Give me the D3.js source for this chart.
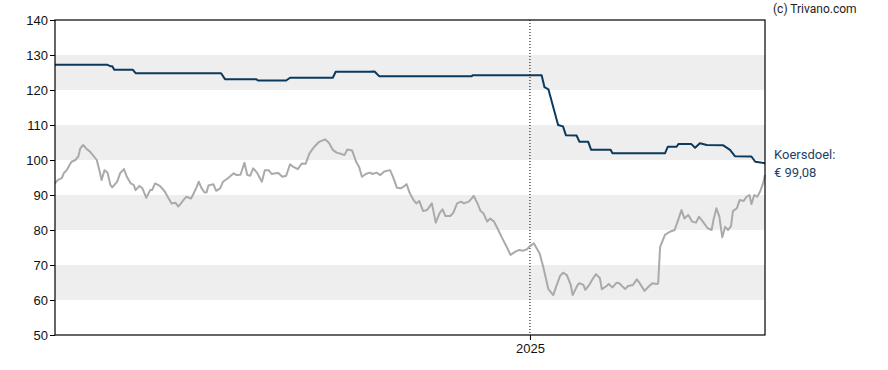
<!DOCTYPE html>
<html lang="nl">
<head>
  <meta charset="UTF-8" />
  <title>Koersdoel chart</title>
  <script src="https://d3js.org/d3.v7.min.js"></script>
  <style>
    body { margin: 0; background: #fff; }
    svg { font-family: Roboto, sans-serif; font-size: 13px; }
    .line { fill: none; stroke-width: 2px; stroke-linejoin: round; }
    .price { stroke: #aaaaaa; }
    .target { stroke: #0b3a5e; }
  </style>
</head>
<body>
  <svg width="888" height="370"></svg>

  <script>
    const priceDates = [
      "2023-08-31","2023-09-03","2023-09-07","2023-09-09","2023-09-12","2023-09-15","2023-09-17","2023-09-21","2023-09-24","2023-09-26",
      "2023-09-29","2023-10-02","2023-10-06","2023-10-09","2023-10-13","2023-10-16","2023-10-18","2023-10-21","2023-10-24","2023-10-27",
      "2023-10-29","2023-11-03","2023-11-06","2023-11-10","2023-11-13","2023-11-17","2023-11-20","2023-11-22","2023-11-26","2023-11-29",
      "2023-12-03","2023-12-07","2023-12-09","2023-12-12","2023-12-17","2023-12-22","2023-12-25","2023-12-29","2024-01-02","2024-01-05",
      "2024-01-09","2024-01-13","2024-01-18","2024-01-20","2024-01-24","2024-01-26","2024-01-29","2024-02-01","2024-02-03","2024-02-05",
      "2024-02-10","2024-02-13","2024-02-17","2024-02-20","2024-02-25","2024-03-02","2024-03-05","2024-03-09","2024-03-13","2024-03-16",
      "2024-03-19","2024-03-22","2024-03-26","2024-03-29","2024-03-31","2024-04-03","2024-04-07","2024-04-10","2024-04-14","2024-04-17",
      "2024-04-21","2024-04-25","2024-04-29","2024-05-02","2024-05-07","2024-05-11","2024-05-15","2024-05-19","2024-05-24","2024-05-29",
      "2024-06-04","2024-06-08","2024-06-12","2024-06-16","2024-06-21","2024-06-24","2024-06-27","2024-07-02","2024-07-06","2024-07-09",
      "2024-07-12","2024-07-16","2024-07-20","2024-07-23","2024-07-27","2024-07-31","2024-08-04","2024-08-10","2024-08-13","2024-08-17",
      "2024-08-21","2024-08-24","2024-08-27","2024-08-30","2024-09-03","2024-09-06","2024-09-09","2024-09-13","2024-09-17","2024-09-22",
      "2024-09-26","2024-09-30","2024-10-03","2024-10-06","2024-10-11","2024-10-14","2024-10-18","2024-10-22","2024-10-25","2024-10-30",
      "2024-11-02","2024-11-04","2024-11-08","2024-11-11","2024-11-14","2024-11-18","2024-11-21","2024-11-25","2024-11-29","2024-12-03",
      "2024-12-08","2024-12-12","2024-12-17","2024-12-21","2024-12-25","2024-12-29","2025-01-01","2025-01-05","2025-01-07","2025-01-11",
      "2025-01-15","2025-01-20","2025-01-25","2025-01-28","2025-02-01","2025-02-04","2025-02-08","2025-02-12","2025-02-14","2025-02-19",
      "2025-02-21","2025-02-25","2025-02-27","2025-03-03","2025-03-07","2025-03-10","2025-03-14","2025-03-16","2025-03-21","2025-03-23",
      "2025-03-27","2025-03-31","2025-04-03","2025-04-09","2025-04-12","2025-04-17","2025-04-21","2025-04-24","2025-04-29","2025-05-03",
      "2025-05-07","2025-05-11","2025-05-13","2025-05-15","2025-05-20","2025-05-25","2025-05-30","2025-06-02","2025-06-06","2025-06-09",
      "2025-06-13","2025-06-17","2025-06-21","2025-06-24","2025-06-28","2025-07-03","2025-07-07","2025-07-09","2025-07-12","2025-07-15",
      "2025-07-18","2025-07-21","2025-07-24","2025-07-27","2025-07-29","2025-08-02","2025-08-05","2025-08-09","2025-08-12","2025-08-15",
      "2025-08-17","2025-08-20","2025-08-23","2025-08-26","2025-08-29","2025-08-31"
    ];
    const priceValues = [
      93.3, 94.3, 94.8, 96.2, 97.1, 98.6, 99.5, 100.0, 101.0, 103.3,
      104.3, 103.3, 102.4, 101.4, 100.0, 96.7, 94.3, 97.1, 96.4, 92.9,
      92.2, 93.8, 96.2, 97.4, 95.2, 93.3, 92.9, 91.4, 92.6, 91.9,
      89.2, 91.4, 91.4, 93.3, 92.6, 91.0, 89.5, 87.6, 87.8, 86.7,
      88.1, 89.5, 89.0, 90.0, 92.4, 93.8, 91.9, 90.7, 90.7, 92.7,
      93.1, 91.2, 91.9, 93.8, 94.8, 96.2, 95.7, 95.8, 99.2, 95.7,
      95.5, 97.6, 96.4, 94.8, 93.8, 97.1, 97.1, 96.0, 96.2, 96.3,
      95.2, 95.5, 98.8, 98.1, 97.4, 99.0, 98.9, 101.9, 103.8, 105.2,
      105.9, 104.9, 102.9, 102.1, 101.7, 101.4, 103.0, 102.7, 99.5, 98.1,
      95.2, 96.0, 96.4, 96.0, 96.4, 95.7, 96.7, 97.1, 95.2, 92.1,
      91.9, 92.4, 93.1, 90.7, 88.6, 87.6, 88.3, 85.4, 85.7, 87.6,
      82.1, 84.8, 85.9, 84.0, 84.0, 84.9, 87.6, 88.1, 87.6, 88.1,
      89.0, 89.8, 87.6, 85.5, 84.8, 82.4, 83.3, 82.4, 80.2, 77.9,
      75.2, 72.9, 73.8, 74.3, 74.1, 74.5, 75.4, 76.2, 75.2, 73.3,
      69.1, 63.1, 61.4, 63.8, 66.9, 67.8, 67.1, 64.3, 61.4, 64.3,
      64.8, 64.3, 62.9, 64.3, 66.2, 67.4, 66.2, 63.1, 64.0, 64.6,
      63.6, 64.9, 64.8, 63.1, 64.0, 64.3, 65.9, 64.8, 62.6, 63.8,
      64.8, 64.6, 64.7, 75.2, 78.6, 79.5, 80.0, 82.4, 85.7, 83.3,
      84.3, 82.4, 82.1, 83.8, 82.4, 80.5, 80.0, 82.9, 86.2, 83.8,
      77.9, 80.9, 80.0, 81.1, 85.4, 86.2, 88.6, 88.3, 89.5, 90.0,
      87.4, 90.0, 89.5, 91.0, 93.3, 95.7
    ];

    const targetDates = [
      "2023-08-31","2023-10-24","2023-10-27","2023-10-29","2023-10-31","2023-11-19","2023-11-22","2024-02-18","2024-02-22","2024-03-25",
      "2024-03-27","2024-04-25","2024-04-29","2024-06-12","2024-06-15","2024-07-19","2024-07-25","2024-07-30","2024-11-02","2024-11-03",
      "2025-01-13","2025-01-16","2025-01-20","2025-01-30","2025-02-04","2025-02-07","2025-02-18","2025-02-21","2025-03-02","2025-03-05",
      "2025-03-25","2025-03-27","2025-05-20","2025-05-23","2025-06-01","2025-06-03","2025-06-16","2025-06-20","2025-06-25","2025-07-02",
      "2025-07-19","2025-07-26","2025-07-31","2025-08-17","2025-08-21","2025-08-31"
    ];
    const targetValues = [
      127.2, 127.2, 126.8, 126.8, 125.8, 125.8, 124.8, 124.8, 123.1, 123.1,
      122.7, 122.7, 123.5, 123.5, 125.2, 125.2, 125.3, 123.9, 123.9, 124.2,
      124.2, 120.8, 120.2, 110.0, 109.6, 107.1, 107.0, 105.2, 105.2, 102.9,
      102.9, 101.9, 101.9, 103.8, 103.8, 104.6, 104.6, 103.5, 104.8, 104.3,
      104.2, 102.9, 101.1, 101.0, 99.5, 99.08
    ];

    const yTicks = [50, 60, 70, 80, 90, 100, 110, 120, 130, 140];
    const bands = [[60, 70], [80, 90], [100, 110], [120, 130]];
    const yearTicks = ["2025-01-01"];
    const targetLabel = ["Koersdoel:", "€ 99,08"];
    const credit = "(c) Trivano.com";

    const margin = { top: 20, right: 123, bottom: 35, left: 55 },
          width = 888 - margin.left - margin.right,
          height = 370 - margin.top - margin.bottom;

    const parse = d3.timeParse("%Y-%m-%d");

    const root = d3.select("svg");
    const svg = root.append("g")
      .attr("transform", `translate(${margin.left},${margin.top})`);

    const x = d3.scaleTime()
      .domain([parse("2023-08-31"), parse("2025-08-31")])
      .range([0, width]);

    const y = d3.scaleLinear()
      .domain([50, 140])
      .range([height, 0]);

    // grey bands
    svg.selectAll(".band")
      .data(bands)
      .join("rect")
      .attr("x", 0)
      .attr("width", width)
      .attr("y", d => y(d[1]))
      .attr("height", d => y(d[0]) - y(d[1]))
      .attr("fill", "#eeeeee");

    // year marker
    svg.selectAll(".year")
      .data(yearTicks)
      .join("line")
      .attr("x1", d => x(parse(d)))
      .attr("x2", d => x(parse(d)))
      .attr("y1", 0)
      .attr("y2", height)
      .attr("stroke", "#000")
      .attr("stroke-dasharray", "1,2");

    const line = d3.line()
      .x(d => x(d.date))
      .y(d => y(d.value));

    svg.append("path")
      .datum(priceDates.map((d, i) => ({ date: parse(d), value: priceValues[i] })))
      .attr("class", "line price")
      .attr("d", line);

    svg.append("path")
      .datum(targetDates.map((d, i) => ({ date: parse(d), value: targetValues[i] })))
      .attr("class", "line target")
      .attr("d", line);

    // axes
    const yAxis = svg.append("g")
      .call(d3.axisLeft(y).tickValues(yTicks).tickSize(5).tickPadding(2));
    const xAxis = svg.append("g")
      .attr("transform", `translate(0,${height})`)
      .call(d3.axisBottom(x).tickValues(yearTicks.map(parse))
        .tickFormat(d3.timeFormat("%Y")).tickSize(5).tickPadding(4));

    [yAxis, xAxis].forEach(a => {
      a.select(".domain").remove();
      a.selectAll("text").attr("fill", "#111").style("font-size", "13px");
    });

    svg.append("rect")
      .attr("width", width)
      .attr("height", height)
      .attr("fill", "none")
      .attr("stroke", "#000")
      .attr("stroke-width", 1.2);

    // labels right of the plot
    root.append("text")
      .attr("x", 773)
      .attr("y", 13)
      .attr("fill", "#222")
      .style("font-size", "12px")
      .text(credit);

    root.selectAll(".tlabel")
      .data(targetLabel)
      .join("text")
      .attr("x", margin.left + width + 9)
      .attr("y", (d, i) => y(targetValues[targetValues.length - 1]) + margin.top - 4 + i * 18)
      .attr("fill", "#1d3f66")
      .style("font-size", "13px")
      .text(d => d);
  </script>
</body>
</html>
